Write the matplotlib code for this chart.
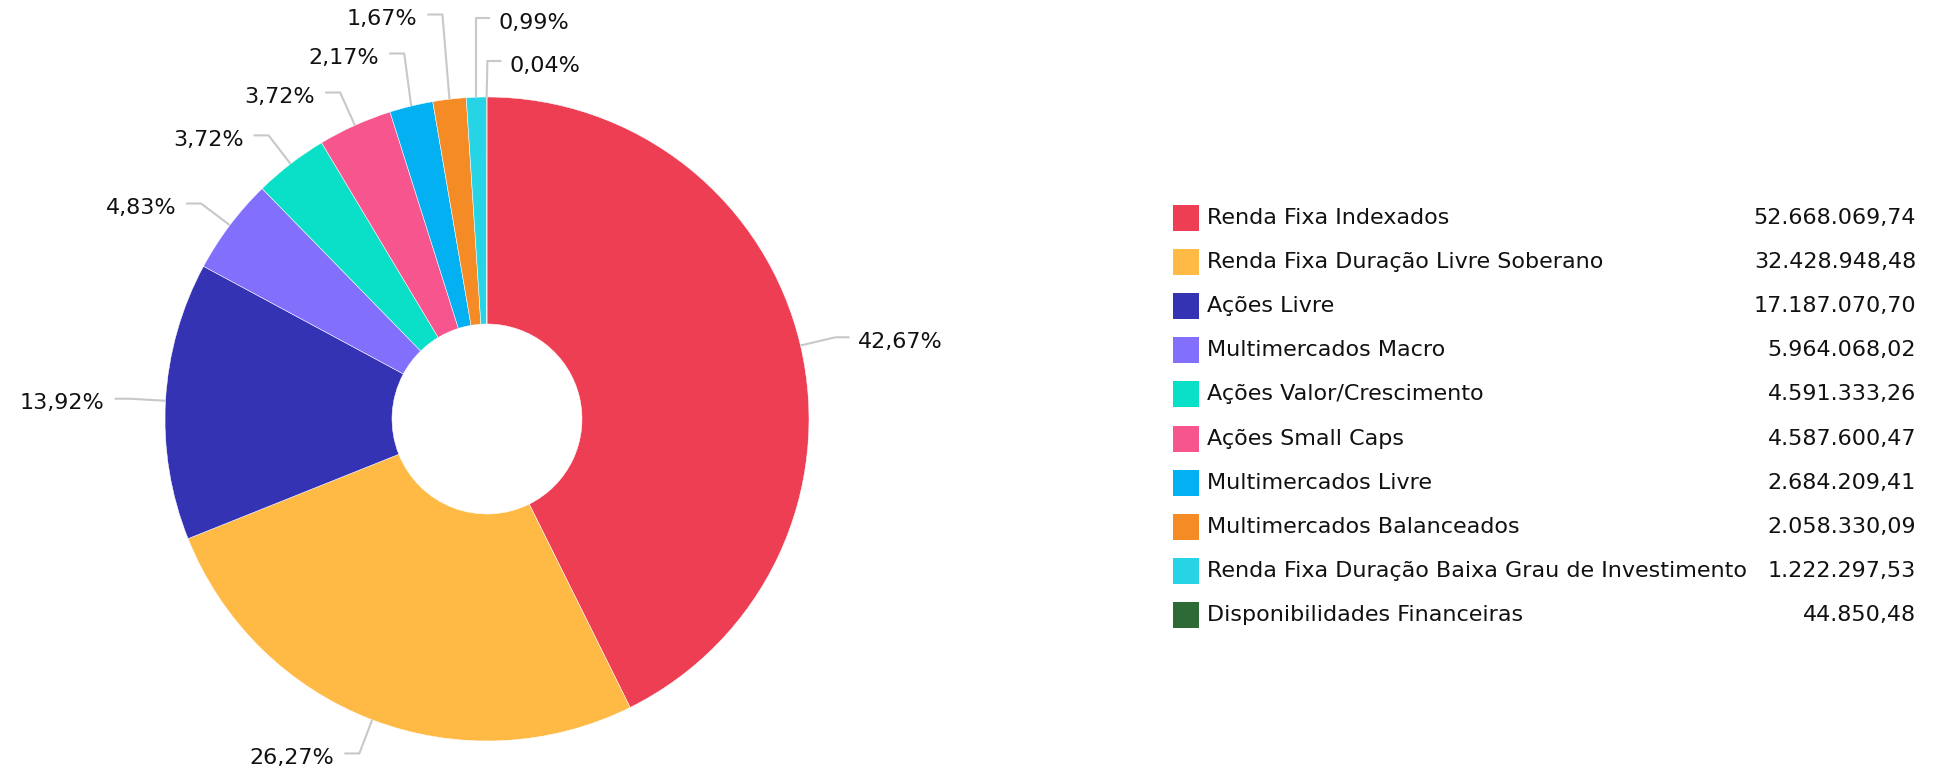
import numpy as np
import matplotlib
matplotlib.use("Agg")
import matplotlib.pyplot as plt

# ---------------- data ----------------
categories = [
    "Renda Fixa Indexados",
    "Renda Fixa Duração Livre Soberano",
    "Ações Livre",
    "Multimercados Macro",
    "Ações Valor/Crescimento",
    "Ações Small Caps",
    "Multimercados Livre",
    "Multimercados Balanceados",
    "Renda Fixa Duração Baixa Grau de Investimento",
    "Disponibilidades Financeiras",
]
values = [
    52668069.74, 32428948.48, 17187070.70, 5964068.02, 4591333.26,
    4587600.47, 2684209.41, 2058330.09, 1222297.53, 44850.48,
]
colors = [
    "#EE3E53", "#FEBA45", "#3333B3", "#826FFB", "#0AE0C8",
    "#F7558E", "#03B0F2", "#F58B25", "#27D4E6", "#2D6A35",
]

# ---------------- layout (pixels) ----------------
W, H = 1943, 778
CX, CY_IMG = 487, 419
R_OUT, R_IN = 322, 95
R_LBL = R_OUT + 36
GAP_LEFT, GAP_RIGHT = 39, 43
TOP_LIMIT = 13
FS = 16
TEXT_COLOR = "#111111"
LINE_COLOR = "#c8c8c8"

def br(v, dec=2):
    s = f"{v:,.{dec}f}"
    return s.replace(",", "X").replace(".", ",").replace("X", ".")

fig = plt.figure(figsize=(W / 100, H / 100), dpi=100)
ax = fig.add_axes([0, 0, 1, 1])
CY = H - CY_IMG

wedges, _ = ax.pie(
    values, colors=colors, startangle=90, counterclock=False,
    radius=R_OUT, center=(CX, CY),
    wedgeprops=dict(width=R_OUT - R_IN, edgecolor="white", linewidth=0.35),
)
ax.set_xlim(0, W)
ax.set_ylim(0, H)
ax.set_aspect("equal")
ax.axis("off")

# ---------------- labels with connectors ----------------
total = sum(values)
fracs = [v / total for v in values]
cum = np.cumsum([0] + fracs)
items = []
for i, f in enumerate(fracs):
    a = np.deg2rad((cum[i] + f / 2) * 360)  # clockwise from top
    ex = CX + R_OUT * np.sin(a)
    ey = CY_IMG - R_OUT * np.cos(a)
    ny = CY_IMG - R_LBL * np.cos(a)
    side = 1 if np.sin(a) > -0.05 else -1
    deg = np.rad2deg(a)
    key = deg if deg < 180 else deg - 360
    items.append(dict(i=i, a=a, ex=ex, ey=ey, ny=ny, side=side, key=key))

left = sorted([d for d in items if d["side"] < 0], key=lambda d: -d["key"])
right = sorted([d for d in items if d["side"] > 0], key=lambda d: d["key"])
for group, gap in ((left, GAP_LEFT), (right, GAP_RIGHT)):
    ys = [d["ny"] for d in group]
    for k in range(len(group) - 2, -1, -1):
        ys[k] = min(ys[k], ys[k + 1] - gap)
    ys[0] = max(ys[0], TOP_LIMIT)
    for k in range(1, len(group)):
        ys[k] = max(ys[k], ys[k - 1] + gap)
    for d, y in zip(group, ys):
        d["ly"] = y

for d in items:
    s = d["side"]
    dy = d["ly"] - CY_IMG
    if abs(dy) < R_LBL:
        bx = CX + s * np.sqrt(R_LBL ** 2 - dy ** 2)
    else:
        bx = d["ex"] if s > 0 else d["ex"] - 7
    hx = bx + s * (14 if s > 0 else 15)
    tx = bx + s * (22 if s > 0 else 25)
    ax.plot([d["ex"], bx, hx], [H - d["ey"], H - d["ly"], H - d["ly"]],
            color=LINE_COLOR, lw=1.5, solid_capstyle="butt", zorder=1)
    ax.text(tx, H - (d["ly"] + 4.5), br(fracs[d["i"]] * 100) + "%",
            ha="left" if s > 0 else "right", va="center",
            fontsize=FS, color=TEXT_COLOR, family="DejaVu Sans")

# ---------------- legend ----------------
LEG_X0 = 1173
LEG_SQ = 26
LEG_TX = 1207
LEG_VX = 1916
LEG_Y0 = 218
LEG_STEP = 44.1
for k, (cat, v, c) in enumerate(zip(categories, values, colors)):
    yc = H - (LEG_Y0 + k * LEG_STEP)
    ax.add_patch(plt.Rectangle((LEG_X0, yc - LEG_SQ / 2), LEG_SQ, LEG_SQ,
                               facecolor=c, edgecolor="none"))
    ax.text(LEG_TX, yc, cat, ha="left", va="center", fontsize=FS,
            color=TEXT_COLOR, family="DejaVu Sans")
    ax.text(LEG_VX, yc, br(v), ha="right", va="center", fontsize=FS,
            color=TEXT_COLOR, family="DejaVu Sans")

fig.savefig("out.png", dpi=100, facecolor="white")
